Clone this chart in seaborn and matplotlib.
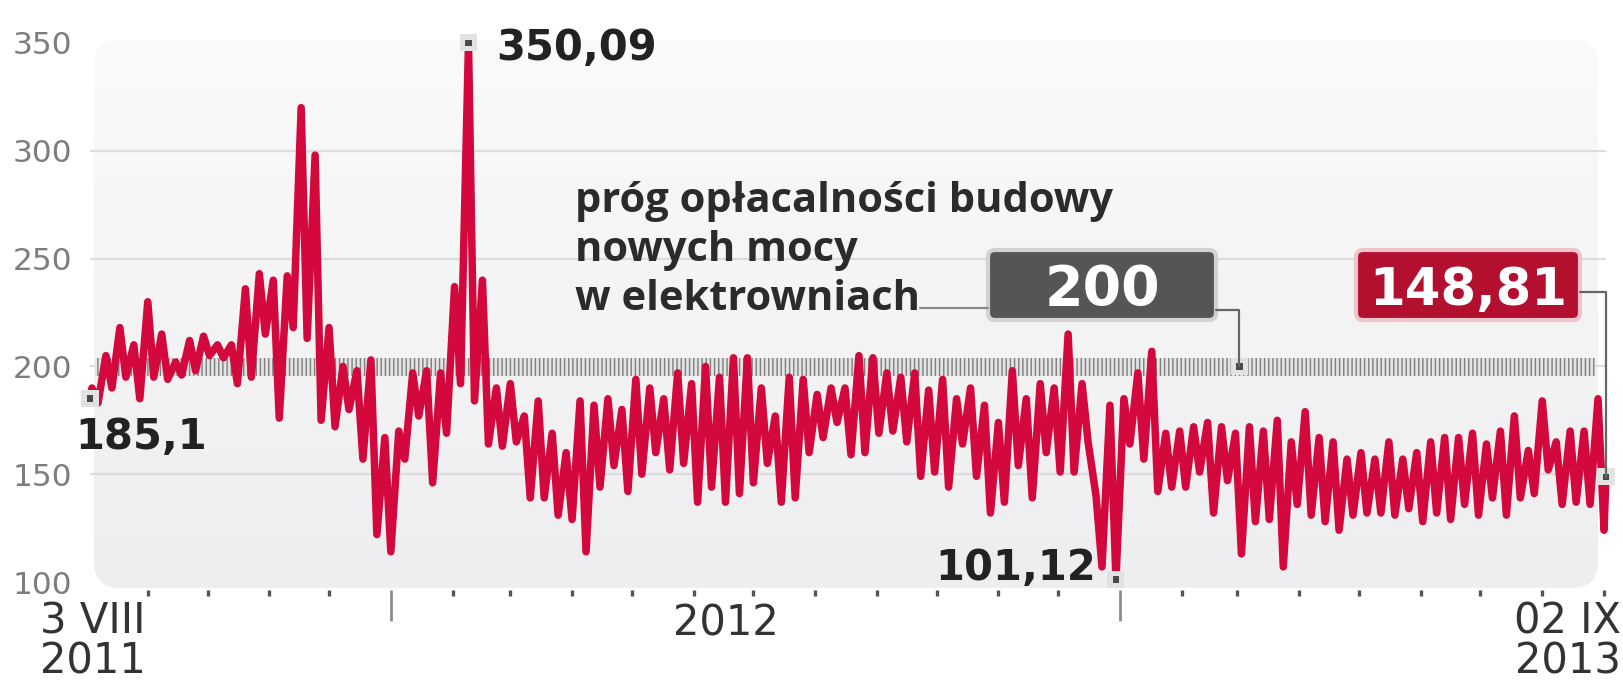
import numpy as np
import pandas as pd
import matplotlib
matplotlib.use("Agg")
import matplotlib.pyplot as plt
import matplotlib.dates as mdates
from matplotlib.patches import FancyBboxPatch
from matplotlib.ticker import NullFormatter
import seaborn as sns

# ---- data: daily power price (PLN/MWh), weekly working-day highs and weekend lows
start_date = "2011-08-03"
end_date = "2013-09-02"
start_value = 185.1
end_value = 148.81

weekday_high = [
    190, 205, 218, 210, 230, 215, 202, 212, 214, 210,
    210, 236, 243, 240, 242, 320, 298, 218, 200, 198,
    203, 167, 170, 197, 198, 197, 237, 350.09, 240, 190,
    192, 177, 184, 169, 160, 184, 182, 185, 180, 194,
    190, 185, 197, 192, 200, 195, 204, 204, 190, 177,
    195, 194, 187, 190, 190, 205, 204, 197, 195, 197,
    189, 194, 185, 190, 182, 174, 198, 185, 192, 190,
    215, 192, 140, 182, 185, 197, 207, 169, 170, 172,
    174, 172, 169, 172, 170, 175, 165, 179, 167, 165,
    157, 160, 157, 165, 157, 160, 165, 167, 167, 169,
    164, 170, 177, 161, 184, 165, 170, 170, 185,
]
weekend_low = [
    183, 190, 195, 185, 195, 194, 196, 198, 205, 204,
    192, 195, 215, 176, 218, 213, 175, 172, 180, 157,
    122, 114, 157, 177, 146, 169, 192, 184, 164, 163,
    165, 139, 139, 131, 129, 114, 144, 154, 142, 150,
    160, 152, 155, 137, 144, 137, 141, 146, 155, 137,
    139, 160, 167, 174, 159, 160, 169, 170, 165, 149,
    151, 144, 164, 149, 132, 137, 154, 139, 160, 151,
    151, 165, 107, 101.12, 164, 157, 142, 144, 144, 151,
    132, 147, 113, 128, 129, 107, 136, 131, 128, 124,
    131, 132, 132, 131, 134, 128, 132, 129, 136, 131,
    139, 131, 139, 141, 152, 136, 137, 136, 124,
]

threshold = 200
threshold_band = (195.5, 204.0)
y_ticks = [100, 150, 200, 250, 300, 350]
y_tick_labels = ["100", "150", "200", "250", "300", "350"]
x_label_start = "3 VIII\n2011"
x_label_mid = "2012"
x_label_end = "02 IX\n2013"
note_lines = ["próg opłacalności budowy", "nowych mocy", "w elektrowniach"]

# ---- assemble the series
thu = pd.date_range("2011-08-04", periods=len(weekday_high), freq="7D")
sun = thu + pd.Timedelta(days=3)
dates = [pd.Timestamp(start_date)]
values = [start_value]
for d1, h, d2, l in zip(thu, weekday_high, sun, weekend_low):
    dates += [d1, d2]
    values += [h, l]
dates.append(pd.Timestamp(end_date))
values.append(end_value)
df = pd.DataFrame({"data": dates, "cena": values})

# ---- figure and axes
sns.set_theme(style="white")
plt.rcParams["font.family"] = ["DejaVu Sans"]
plt.rcParams["hatch.linewidth"] = 1.0
plt.rcParams["hatch.color"] = "#7e7e7e"

W, H = 1623, 682
fig = plt.figure(figsize=(W / 100, H / 100), dpi=100)
fig.patch.set_facecolor("white")

# background layer in pixel coordinates (y downward)
bg = fig.add_axes([0, 0, 1, 1], zorder=0)
bg.set_xlim(0, W)
bg.set_ylim(H, 0)
bg.axis("off")

panel = FancyBboxPatch((94, 40), 1504, 548,
                       boxstyle="round,pad=0,rounding_size=26",
                       fc="none", ec="none")
bg.add_patch(panel)
grad = np.linspace(0, 1, 256).reshape(-1, 1)
cmap = matplotlib.colors.LinearSegmentedColormap.from_list(
    "panel", ["#fafafa", "#eeeef0"])
img = bg.imshow(grad, cmap=cmap, aspect="auto",
                extent=(94, 1598, 588, 40), interpolation="bilinear")
img.set_clip_path(panel)

ax = fig.add_axes([90 / W, 1 - 582 / H, 1516 / W, 539 / H], zorder=2)
ax.patch.set_alpha(0)

ax.set_ylim(100, 350)
ax.set_xlim(pd.Timestamp(start_date), pd.Timestamp(end_date))

# grid
ax.set_yticks(y_ticks)
ax.set_yticklabels(y_tick_labels)
ax.grid(axis="y", color="#dcdcdc", linewidth=1.6)
ax.grid(axis="x", visible=False)
for gl, v in zip(ax.get_ygridlines(), y_ticks):
    if v in (100, 350):
        gl.set_visible(False)

# threshold band
ax.axhspan(*threshold_band, xmin=0.003, xmax=0.993, facecolor="#e4e4e4",
           edgecolor="#7e7e7e", hatch="||||", linewidth=0, zorder=2)

# price line
sns.lineplot(data=df, x="data", y="cena", ax=ax, color="#d3083c",
             linewidth=5.4, estimator=None, zorder=4)
line = ax.lines[-1]
line.set_solid_joinstyle("round")
line.set_clip_on(False)

# spines and ticks
for s in ax.spines.values():
    s.set_visible(False)
ax.spines["bottom"].set_position(("outward", 6))
ax.set_xlabel("")
ax.set_ylabel("")
ax.xaxis.set_major_locator(mdates.YearLocator())
ax.xaxis.set_minor_locator(mdates.MonthLocator())
ax.xaxis.set_major_formatter(NullFormatter())
ax.xaxis.set_minor_formatter(NullFormatter())
ax.tick_params(axis="x", which="major", length=22, width=2.0,
               color="#8c8c8c", direction="out", bottom=True)
ax.tick_params(axis="x", which="minor", length=4, width=2.4,
               color="#555555", direction="out", bottom=True)
ax.tick_params(axis="y", length=0, pad=13, labelsize=22.5,
               labelcolor="#7d7d7d")

# axis end labels
lab = dict(fontsize=30, color="#333333", linespacing=0.92)
ax.text(-0.033, -0.035, x_label_start, transform=ax.transAxes, ha="left",
        va="top", **lab)
ax.text(pd.Timestamp("2012-06-17"), -0.1, x_label_mid,
        transform=ax.get_xaxis_transform(), ha="center", va="baseline",
        fontsize=30, color="#333333")
ax.text(1.01, -0.035, x_label_end, transform=ax.transAxes, ha="right",
        va="top", **lab)

# key points
i_max = int(np.argmax(values))
i_min = int(np.argmin(values))
points = [(dates[0], values[0]), (dates[i_max], values[i_max]),
          (dates[i_min], values[i_min]), (dates[-1], values[-1])]
thr_date = pd.Timestamp("2013-03-02")
mark_x = [p[0] for p in points] + [thr_date]
mark_y = [p[1] for p in points] + [threshold]
ax.scatter(mark_x, mark_y, marker="s", s=150, color="#e2e2e2",
           edgecolor="none", zorder=6, clip_on=False)
ax.scatter(mark_x, mark_y, marker="s", s=22, color="#4a4a4a",
           edgecolor="none", zorder=7, clip_on=False)


def fmt(v):
    return f"{v:.2f}".rstrip("0").rstrip(".").replace(".", ",")


bold = dict(fontsize=30, fontweight="bold", color="#222222",
            textcoords="offset pixels", zorder=8, annotation_clip=False)
ax.annotate(fmt(values[i_max]), xy=points[1], xytext=(28, -17),
            ha="left", va="baseline", **bold)
ax.annotate(fmt(values[0]), xy=points[0], xytext=(-15, -50),
            ha="left", va="baseline", **bold)
ax.annotate(fmt(values[i_min]), xy=points[2], xytext=(-20, 0),
            ha="right", va="baseline", **bold)

# overlay layer for the callouts (pixel coordinates, y downward)
ov = fig.add_axes([0, 0, 1, 1], zorder=5)
ov.set_xlim(0, W)
ov.set_ylim(H, 0)
ov.axis("off")
ov.patch.set_alpha(0)


def to_px(x, y):
    dx, dy = ax.transData.transform((mdates.date2num(x), y))
    return dx, H - dy


for i, txt in enumerate(note_lines):
    ov.text(575, 212 + 49 * i, txt, ha="left", va="baseline",
            fontsize=30, fontweight="bold", color="#2b2b2b",
            family=["Open Sans", "DejaVu Sans"])

# threshold callout
ov.plot([920, 988], [308, 308], color="#8a8a8a", lw=1.6)
ov.add_patch(FancyBboxPatch((988, 250), 228, 70,
                            boxstyle="round,pad=0,rounding_size=7",
                            fc="#555555", ec="#d2d2d2", lw=3))
ov.text(1102, 305, str(threshold), ha="center", va="baseline",
        fontsize=40, fontweight="bold", color="white")
tx, ty = to_px(thr_date, threshold)
ov.plot([1216, tx, tx], [310, 310, ty], color="#666666", lw=1.6, zorder=1)

# latest value callout
ov.add_patch(FancyBboxPatch((1356, 250), 224, 70,
                            boxstyle="round,pad=0,rounding_size=7",
                            fc="#b30f2e", ec="#efc4cb", lw=3))
ov.text(1468, 305, fmt(values[-1]), ha="center", va="baseline",
        fontsize=37, fontweight="bold", color="white")
ex, ey = to_px(dates[-1], values[-1])
ov.plot([1580, ex, ex], [292, 292, ey], color="#666666", lw=1.6, zorder=1)

fig.savefig("out.png", dpi=100)
